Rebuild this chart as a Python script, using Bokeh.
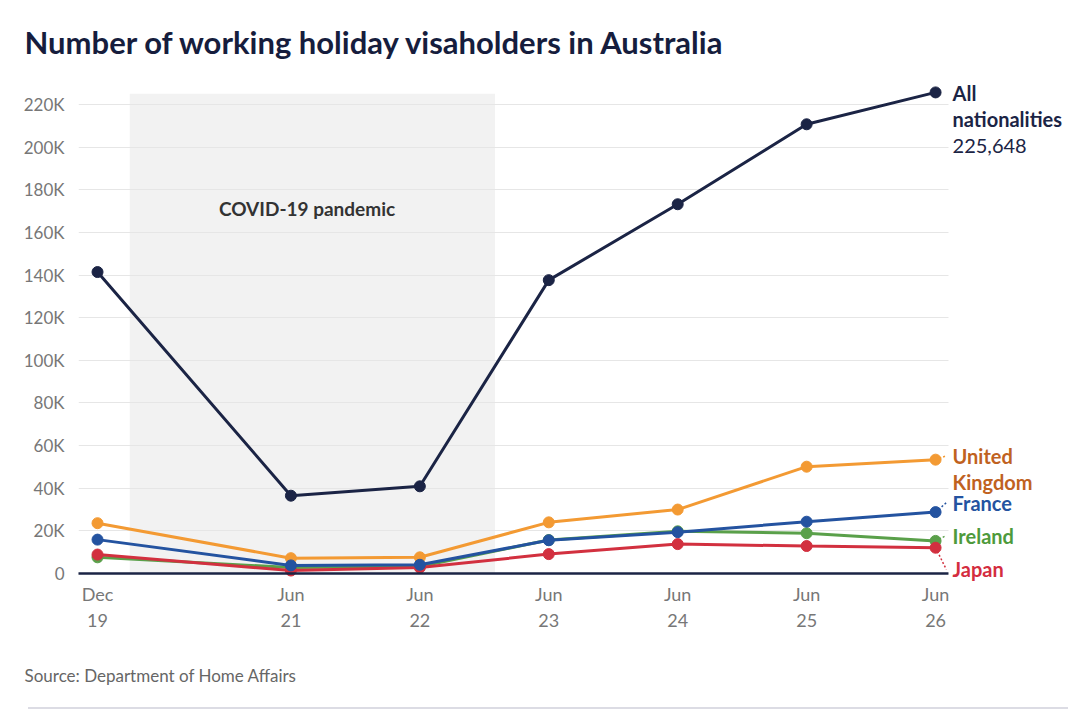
from bokeh.plotting import figure
from bokeh.models import (ColumnDataSource, Range1d, FixedTicker, Label, Div)
from bokeh.layouts import column
from bokeh.embed import file_html
from bokeh.resources import INLINE

# ---------------- data ----------------
# x = months since Dec 2019
months = [0, 18, 30, 42, 54, 66, 78]
x_tick_labels = ["Dec\n19", "Jun\n21", "Jun\n22", "Jun\n23", "Jun\n24", "Jun\n25", "Jun\n26"]

all_nationalities = [141400, 36500, 40900, 137600, 173200, 210700, 225648]
united_kingdom = [23600, 7200, 7600, 24000, 30000, 50100, 53400]
france = [15900, 3800, 4100, 15600, 19400, 24300, 28800]
ireland = [7600, 2800, 3300, 15700, 19800, 18900, 15300]
japan = [8900, 1400, 2800, 9100, 13800, 12900, 12100]

y_ticks = [0, 20000, 40000, 60000, 80000, 100000, 120000, 140000, 160000,
           180000, 200000, 220000]
y_tick_labels = ["0", "20K", "40K", "60K", "80K", "100K", "120K", "140K",
                 "160K", "180K", "200K", "220K"]

covid_start, covid_end = 3, 37      # Mar 2020 .. Jan 2023
covid_top = 225000

# ---------------- styles ----------------
FONT = "Lato"
NAVY = "#1b2445"
C_UK, C_FR, C_IE, C_JP = "#f39a33", "#2453a0", "#5aa04a", "#d2303f"
L_UK, L_FR, L_IE, L_JP = "#c0621f", "#2453a0", "#4e9a3c", "#d42d3f"

X0, X_DATA_END, X1 = -1.77, 79.2, 90.0
p = figure(width=1064, height=650, output_backend="svg", toolbar_location=None,
           x_range=Range1d(X0, X1), y_range=Range1d(-4213, 230766),
           min_border_left=78, min_border_right=0, min_border_top=80,
           min_border_bottom=68,
           title="Number of working holiday visaholders in Australia")
p.outline_line_color = None
p.background_fill_color = "white"
p.border_fill_color = "white"

p.title.text_font = FONT
p.title.text_font_style = "bold"
p.title.text_font_size = "31px"
p.title.text_color = "#161d3d"
p.title.align = "left"
p.title.offset = -54
p.title.standoff = 41

# axes
p.yaxis.ticker = FixedTicker(ticks=y_ticks)
p.yaxis.major_label_overrides = {t: l for t, l in zip(y_ticks, y_tick_labels)}
p.yaxis.axis_line_color = None
p.yaxis.major_tick_line_color = None
p.yaxis.minor_tick_line_color = None
p.yaxis.major_label_text_font = FONT
p.yaxis.major_label_text_font_size = "17px"
p.yaxis.major_label_text_color = "#777777"
p.yaxis.major_label_standoff = 8

p.xaxis.ticker = FixedTicker(ticks=months)
p.xaxis.major_label_overrides = {t: l for t, l in zip(months, x_tick_labels)}
p.xaxis.axis_line_color = None
p.xaxis.major_tick_line_color = None
p.xaxis.minor_tick_line_color = None
p.xaxis.major_label_text_font = FONT
p.xaxis.major_label_text_font_size = "18px"
p.xaxis.major_label_text_color = "#777777"
p.xaxis.major_label_standoff = -6

p.xgrid.grid_line_color = None
p.ygrid.grid_line_color = "#e6e6e6"
p.ygrid.grid_line_width = 1
p.ygrid.cross_bounds = (X0, X_DATA_END)

# covid shading
p.quad(left=[covid_start], right=[covid_end], bottom=[0], top=[covid_top],
       fill_color="#f2f2f2", line_color=None, level="image")
p.add_layout(Label(x=19.5, y=171000, text="COVID-19 pandemic",
                   text_font=FONT, text_font_style="bold", text_font_size="19px",
                   text_color="#333333", text_align="center", text_baseline="middle"))

series = [
    ("All", all_nationalities, NAVY),
    ("UK", united_kingdom, C_UK),
    ("Ireland", ireland, C_IE),
    ("Japan", japan, C_JP),
    ("France", france, C_FR),
]

# connectors to labels (layout: label y positions)
label_y = {"UK": 55200, "France": 33200, "Ireland": 17800, "Japan": 1900}
conn_x_end = 79.0

for name, vals, col in series:
    if name in label_y:
        p.segment(x0=[months[-1]], y0=[vals[-1]], x1=[conn_x_end], y1=[label_y[name]],
                  line_color=col, line_width=1.5, line_dash="2 2")
    src = ColumnDataSource(dict(x=months, y=vals))
    p.line("x", "y", source=src, line_color=col, line_width=3)
    p.scatter("x", "y", source=src, size=11, fill_color=col, line_color=col)

# zero baseline
p.segment(x0=[X0], y0=[0], x1=[X_DATA_END], y1=[0], line_color=NAVY,
          line_width=2.5, level="overlay")

# right-side labels
LX = 79.58
def lab(y, text, color, bold=True):
    p.add_layout(Label(x=LX, y=y, text=text, text_font=FONT,
                       text_font_style="bold" if bold else "normal",
                       text_font_size="20px", text_color=color,
                       text_align="left", text_baseline="middle"))

lab(225600, "All", NAVY)
lab(213000, "nationalities", NAVY)
lab(200300, f"{all_nationalities[-1]:,}", NAVY, bold=False)
lab(55200, "United", L_UK)
lab(43100, "Kingdom", L_UK)
lab(33200, "France", L_FR)
lab(17800, "Ireland", L_IE)
lab(1900, "Japan", L_JP)

# footer with the source note
f = figure(width=1064, height=44, output_backend="svg", toolbar_location=None,
           x_range=Range1d(0, 1), y_range=Range1d(0, 1),
           x_axis_type=None, y_axis_type=None,
           min_border_left=78, min_border_right=0, min_border_top=40,
           min_border_bottom=0,
           title="Source: Department of Home Affairs")
f.outline_line_color = None
f.xgrid.grid_line_color = None
f.ygrid.grid_line_color = None
f.title.text_font = FONT
f.title.text_font_style = "normal"
f.title.text_font_size = "17px"
f.title.text_color = "#666666"
f.title.align = "left"
f.title.offset = -54
f.title.standoff = 10

# bottom rule
rule = Div(width=1064, height=4,
           text='<div style="margin-left:23px;margin-top:-4px;width:1040px;height:2px;'
                'background:#dcdce4"></div>')

open("out.html", "w").write(file_html(column(p, f, rule), INLINE))
